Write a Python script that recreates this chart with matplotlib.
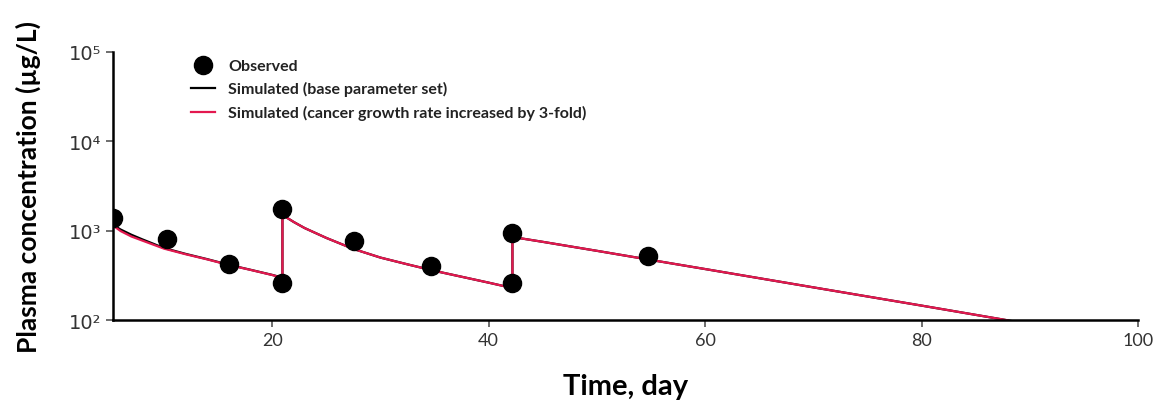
import matplotlib.pyplot as plt

plt.rcParams['font.family'] = ['Lato', 'DejaVu Sans']

# observed data
obs_day = [5.3, 10.3, 16.0, 20.95, 20.95, 27.6, 34.7, 42.2, 42.2, 54.7]
obs_conc = [1390, 810, 425, 1760, 262, 770, 405, 945, 262, 515]

# simulated, base parameter set
base_day = [5.3, 6, 7, 8, 10, 12, 14, 16, 18, 20, 20.95,
            20.95, 22, 23, 25, 27.5, 30, 32.5, 35, 37.5, 40, 42.2,
            42.2, 45, 50, 55, 60, 70, 80, 88, 90]
base_conc = [1160, 1030, 900, 800, 640, 550, 480, 415, 365, 320, 298,
             1500, 1250, 1070, 830, 625, 500, 420, 355, 305, 262, 228,
             850, 750, 595, 470, 372, 232, 145, 99, 90]

# simulated, cancer growth rate x3
fast_day = [5.3, 6, 7, 8, 10, 12, 14, 16, 18, 20, 20.95,
            20.95, 22, 23, 25, 27.5, 30, 32.5, 35, 37.5, 40, 42.2,
            42.2, 45, 50, 55, 60, 70, 80, 88]
fast_conc = [1140, 990, 860, 775, 630, 545, 477, 413, 364, 319, 296,
             1500, 1250, 1070, 830, 625, 500, 420, 355, 305, 262, 228,
             850, 750, 595, 470, 372, 232, 145, 99]

y_ticks = [1e2, 1e3, 1e4, 1e5]
y_ticklabels = ['10²', '10³', '10⁴', '10⁵']
x_ticks = [20, 40, 60, 80, 100]

fig = plt.figure(figsize=(11.69, 4.14), dpi=100)
ax = fig.add_axes([0.0967, 0.2246, 0.8768, 0.6474])

ax.scatter(obs_day, obs_conc, s=170, color="black", zorder=5, label="Observed")
ax.plot(base_day, base_conc, color="black", linewidth=1.6, label="Simulated (base parameter set)")
ax.plot(fast_day, fast_conc, color="#E3184F", linewidth=1.6,
        label="Simulated (cancer growth rate increased by 3-fold)")

ax.set_yscale("log")
ax.set_ylim(100, 1e5)
ax.set_xlim(5.3, 100)
ax.set_yticks(y_ticks)
ax.set_yticklabels(y_ticklabels, fontsize=14, color="#333333",
                   family=['DejaVu Sans'])
ax.minorticks_off()
ax.set_xticks(x_ticks)
ax.set_xticklabels([str(t) for t in x_ticks], fontsize=13, color="#333333")
ax.tick_params(length=5, width=1.2, color="#555555")

for s in ["top", "right"]:
    ax.spines[s].set_visible(False)
for s in ["left", "bottom"]:
    ax.spines[s].set_linewidth(1.8)

ax.set_xlabel("Time, day", fontsize=21, fontweight="bold", labelpad=18)
ax.set_ylabel("Plasma concentration (µg/L)", fontsize=19, fontweight="bold", labelpad=20)

leg = ax.legend(loc="upper left", bbox_to_anchor=(0.07, 1.0), frameon=False,
                prop={"weight": "bold", "size": 11.5}, handlelength=1.5,
                labelspacing=0.55, borderaxespad=0)
for t in leg.get_texts():
    t.set_color("#222222")

plt.savefig("out.png", dpi=100)
plt.close()
